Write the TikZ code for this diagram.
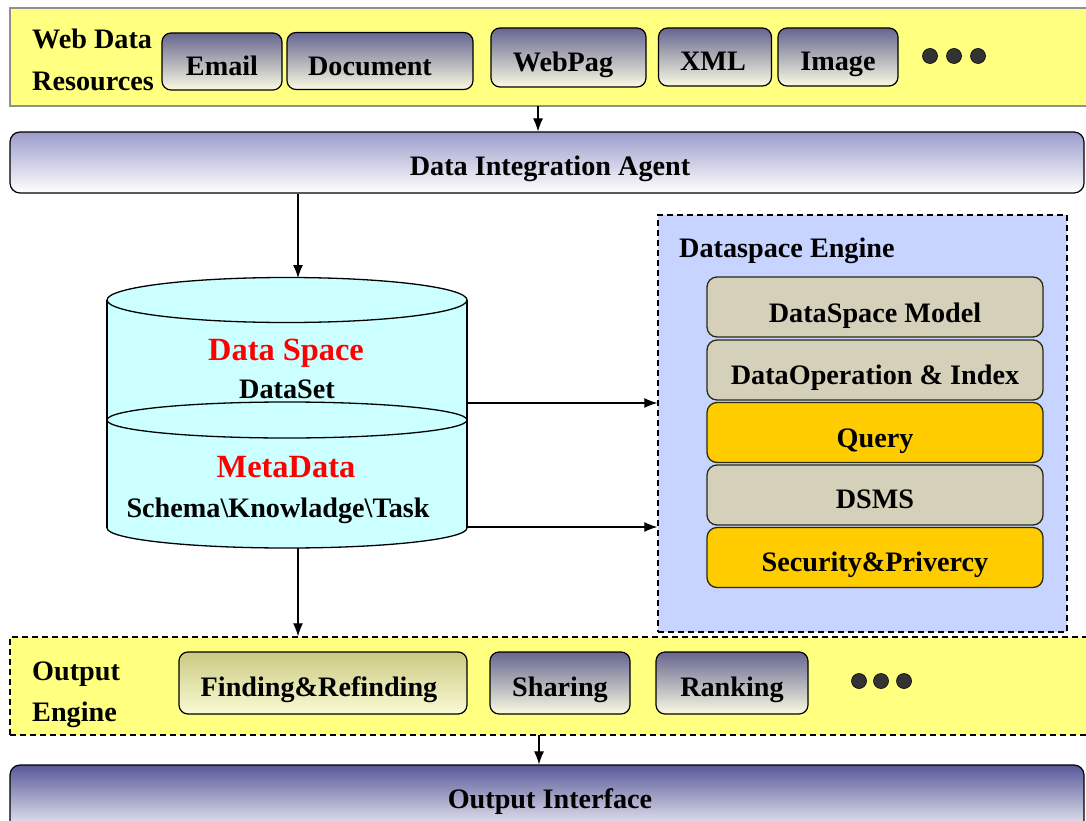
\documentclass[tikz,border=0pt]{standalone}
\usepackage{fontspec}
\setmainfont{Liberation Serif}
\usetikzlibrary{arrows.meta}
\definecolor{bandyellow}{HTML}{FFFF80}
\definecolor{bandedge}{HTML}{909090}
\definecolor{engblue}{HTML}{C6D4FF}
\definecolor{tanbox}{HTML}{D4D0B9}
\definecolor{goldbox}{HTML}{FFCC00}
\definecolor{cyanfill}{HTML}{CCFFFF}
\definecolor{slate}{HTML}{666690}
\definecolor{cream}{HTML}{FAFAE2}
\definecolor{lav}{HTML}{9C9CCC}
\definecolor{deepslate}{HTML}{58589A}
\definecolor{olivetop}{HTML}{CACA82}
\definecolor{olivebot}{HTML}{FAFAD6}
\definecolor{dotgray}{HTML}{333333}
\definecolor{redtext}{HTML}{FF0000}
\definecolor{darkedge}{HTML}{2A2A10}
\begin{document}
\begin{tikzpicture}[x=1pt,y=-1pt,
  txt/.style={font=\fontsize{28.2}{30}\selectfont\bfseries, anchor=base, inner sep=0pt},
  redtxt/.style={font=\fontsize{32.4}{34}\selectfont\bfseries, anchor=base, inner sep=0pt, text=redtext},
  band/.style={rectangle, inner sep=0pt, fill=bandyellow},
  resbox/.style={rectangle, inner sep=0pt, draw=black, line width=1.2pt, rounded corners=9pt, top color=slate, bottom color=cream},
  olivebox/.style={rectangle, inner sep=0pt, draw=black, line width=1.2pt, rounded corners=9pt, top color=olivetop, bottom color=olivebot},
  layer/.style={rectangle, inner sep=0pt, draw=darkedge, line width=1.3pt, rounded corners=10pt, minimum width=336pt, minimum height=60pt},
  bar/.style={rectangle, inner sep=0pt, draw=black, line width=1.2pt, rounded corners=10pt, bottom color=white},
  dashbox/.style={draw=black, line width=1.4pt, dash pattern=on 6pt off 4pt},
  arr/.style={-{Latex[length=13pt,width=10pt]}, line width=1.1pt},
  dot/.style={circle, inner sep=0pt, minimum size=15pt, fill=dotgray, draw=black, line width=0.6pt}]
\useasboundingbox (0,0) rectangle (1086,821);
\clip (0,0) rectangle (1086,821);

% ---------- top band: web data resources
\node[band, draw=bandedge, line width=1.6pt, minimum width=1100pt, minimum height=98pt] (band) at (560,57) {};
\node[txt, anchor=base west] (wd1) at (32,48.5) {Web Data};
\node[txt, anchor=base west] (wd2) at (32,91) {Resources};
\node[resbox, minimum width=120pt, minimum height=57pt] (email) at (222,61.5) {};
\node[txt] at (222,76) {Email};
\node[resbox, minimum width=186pt, minimum height=57pt] (doc) at (380,61) {};
\node[txt] at (370,76) {Document};
\node[resbox, minimum width=155pt, minimum height=59pt] (web) at (568.5,57.5) {};
\node[txt] at (563,71.5) {WebPag};
\node[resbox, minimum width=113pt, minimum height=58pt] (xml) at (715,57) {};
\node[txt] at (713,71) {XML};
\node[resbox, minimum width=120pt, minimum height=58pt] (img) at (838,57) {};
\node[txt] at (838,71) {Image};
\node[dot] (d1) at (930,56) {};
\node[dot] (d2) at (954,56) {};
\node[dot] (d3) at (978,56) {};

% ---------- data integration agent
\node[bar, top color=lav, minimum width=1074pt, minimum height=61pt] (dia) at (547,162.5) {};
\node[txt] at (550,176) {Data Integration Agent};
\coordinate (a1) at (538,106);
\draw[arr] (a1) -- (a1 |- dia.north);

% ---------- cylinder
\coordinate (cylTop) at (298,278);
\coordinate (cylBot) at (298,548);
\coordinate (cylR1) at (467,403);
\coordinate (cylR2) at (467,527);
\draw[fill=cyanfill, line width=1.3pt] (287,528) ellipse [x radius=180, y radius=20];
\fill[cyanfill] (107,300) rectangle (467,528);
\draw[line width=1.3pt] (107,300) -- (107,528) (467,300) -- (467,528);
\draw[fill=cyanfill, line width=1.3pt] (287,420) ellipse [x radius=180, y radius=18];
\draw[fill=cyanfill, line width=1.3pt] (287,300) ellipse [x radius=180, y radius=22.5];
\node[redtxt] (ds) at (286,360) {Data Space};
\node[txt] (dset) at (287,398) {DataSet};
\node[redtxt] (md) at (286,477) {MetaData};
\node[txt] (skt) at (278,517) {Schema\textbackslash Knowladge\textbackslash Task};
\draw[arr] (dia.south -| cylTop) -- (cylTop);

% ---------- dataspace engine
\node[rectangle, inner sep=0pt, fill=engblue, dashbox, minimum width=409pt, minimum height=417pt] (dse) at (862.5,423.5) {};
\node[txt, anchor=base west] at (679,257) {Dataspace Engine};
\node[layer, fill=tanbox] (l1) at (875,307) {};
\node[txt] at (875,322) {DataSpace Model};
\node[layer, fill=tanbox] (l2) at (875,370) {};
\node[txt] at (875,384) {DataOperation \& Index};
\node[layer, fill=goldbox] (l3) at (875,432.5) {};
\node[txt] at (875,447) {Query};
\node[layer, fill=tanbox] (l4) at (875,495) {};
\node[txt] at (875,508) {DSMS};
\node[layer, fill=goldbox] (l5) at (875,557.5) {};
\node[txt] at (875,571) {Security\&Privercy};
\draw[arr] (cylR1) -- (cylR1 -| dse.west);
\draw[arr] (cylR2) -- (cylR2 -| dse.west);

% ---------- output engine
\node[band, dashbox, minimum width=1100pt, minimum height=98pt] (oe) at (560,686) {};
\node[txt, anchor=base west] at (32,680) {Output};
\node[txt, anchor=base west] at (32,721) {Engine};
\node[olivebox, minimum width=288pt, minimum height=62pt] (fr) at (323,683) {};
\node[txt] at (319,696) {Finding\&Refinding};
\node[resbox, minimum width=140pt, minimum height=62pt] (sh) at (560,683) {};
\node[txt] at (560,696) {Sharing};
\node[resbox, minimum width=152pt, minimum height=62pt] (rk) at (732,683) {};
\node[txt] at (732,696) {Ranking};
\node[dot] (e1) at (859,681) {};
\node[dot] (e2) at (881,681) {};
\node[dot] (e3) at (904,681) {};
\draw[arr] (cylBot) -- (cylBot |- oe.north);

% ---------- output interface
\node[bar, top color=deepslate, minimum width=1074pt, minimum height=72pt] (oi) at (547,801) {};
\node[txt] at (550,808) {Output Interface};
\coordinate (a3) at (539,735);
\draw[arr] (a3) -- (a3 |- oi.north);
\end{tikzpicture}
\end{document}
